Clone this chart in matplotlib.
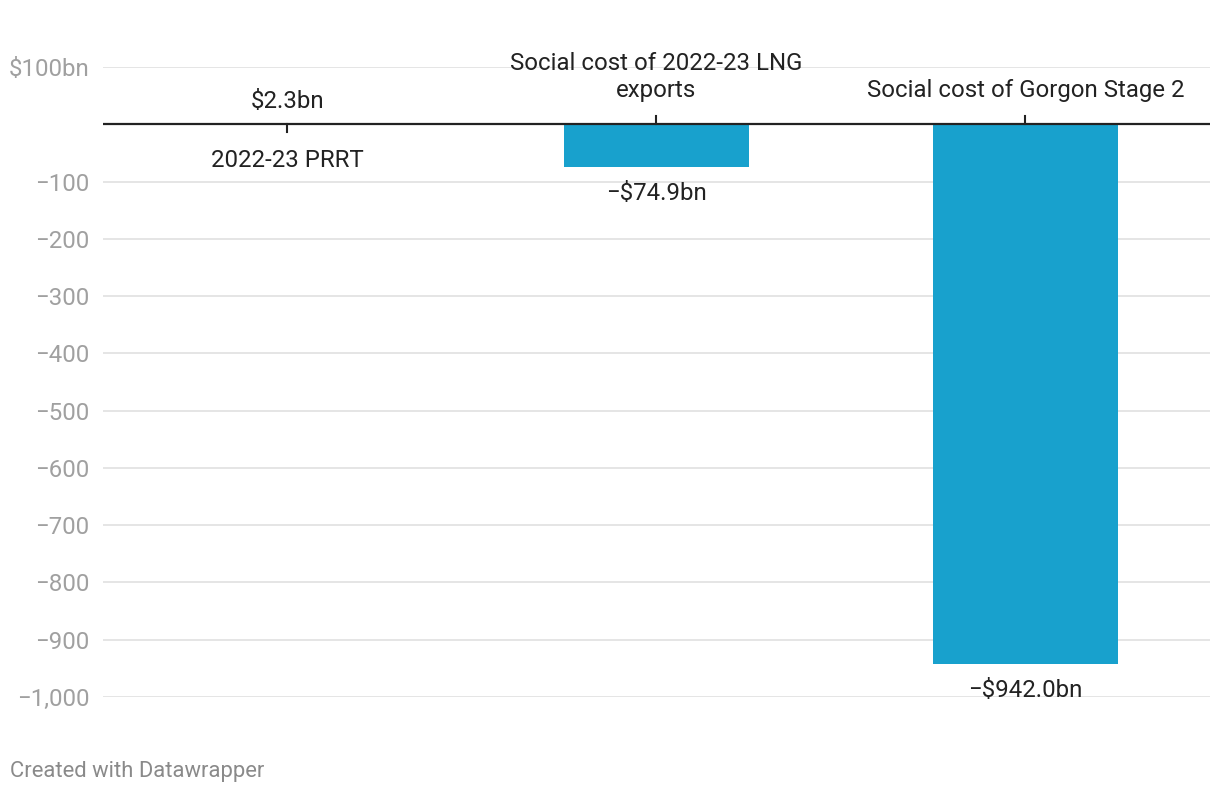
import matplotlib.pyplot as plt

plt.rcParams['font.family'] = ['Roboto', 'DejaVu Sans']

categories = ['2022-23 PRRT', 'Social cost of 2022-23 LNG\nexports', 'Social cost of Gorgon Stage 2']
values = [2.3, -74.9, -942.0]
value_labels = ['$2.3bn', '\u2212$74.9bn', '\u2212$942.0bn']
yticks = [100, -100, -200, -300, -400, -500, -600, -700, -800, -900, -1000]
ytick_labels = ['$100bn', '\u2212100', '\u2212200', '\u2212300', '\u2212400', '\u2212500',
                '\u2212600', '\u2212700', '\u2212800', '\u2212900', '\u22121,000']

bar_color = '#18a1cd'
fs = 17.3

fig = plt.figure(figsize=(12.2, 7.94), dpi=100)
ax = fig.add_axes([0.0844, 0.1222, 0.9074, 0.7934])

x = list(range(len(categories)))
ax.bar(x, values, width=0.5, color=bar_color, zorder=3)

ax.set_xlim(-0.5, 2.5)
ax.set_ylim(-1000, 100)

# grid lines
for t in yticks:
    ax.axhline(t, color='#e3e3e3', lw=1.3, zorder=1)
ax.axhline(0, color='#222222', lw=1.6, zorder=4)

ax.set_yticks(yticks)
ax.set_yticklabels(ytick_labels)
ax.tick_params(axis='y', length=0, pad=10, labelsize=fs, labelcolor='#a0a0a0')
ax.set_xticks([])
for s in ax.spines.values():
    s.set_visible(False)

# category labels and tiny ticks at the zero line
for i, (cat, v) in enumerate(zip(categories, values)):
    if v >= 0:
        ax.plot([i, i], [0, -14], color='#222222', lw=1.5, zorder=4, clip_on=False)
        ax.annotate(cat, (i, 0), xytext=(0, -26), textcoords='offset points',
                    ha='center', va='center', fontsize=fs, color='#222222')
    else:
        ax.plot([i, i], [0, 14], color='#222222', lw=1.5, zorder=4, clip_on=False)
        dy = 34 if '\n' in cat else 24.5
        ax.annotate(cat, (i, 0), xytext=(0, dy), textcoords='offset points',
                    ha='center', va='center', fontsize=fs, color='#222222',
                    linespacing=1.25)

# value labels
for i, (v, lab) in enumerate(zip(values, value_labels)):
    dy = 15.5 if v >= 0 else -19
    ax.annotate(lab, (i, v), xytext=(0, dy), textcoords='offset points',
                ha='center', va='center', fontsize=fs, color='#222222')

fig.text(0.0082, 0.028, 'Created with Datawrapper', fontsize=15.8, color='#8a8a8a',
         ha='left', va='center')

fig.savefig('out.png', dpi=100, facecolor='white')
